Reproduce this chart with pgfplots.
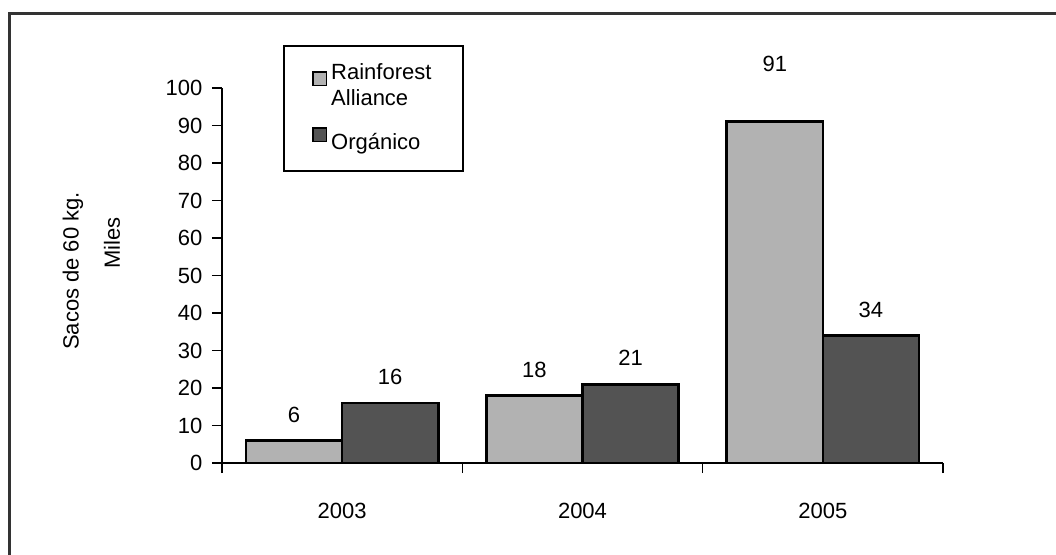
\documentclass[border=0pt]{standalone}
\usepackage{fontspec}
\setmainfont{Liberation Sans}
\usepackage{pgfplots}
\pgfplotsset{compat=1.18}
\definecolor{lightbar}{HTML}{B2B2B2}
\definecolor{darkbar}{HTML}{535353}

\begin{document}
\fontsize{11}{13}\selectfont
\begin{tikzpicture}
\useasboundingbox (-111pt,-45.5pt) rectangle (417pt,231.5pt);
% outer chart frame (cropped at right and bottom)
\draw[line width=1.5pt, black!80] (-106pt,-60pt) -- (-106pt,225pt) -- (430pt,225pt);
\begin{axis}[
  scale only axis,
  width=360.5pt, height=187.5pt,
  ybar, bar width=0.4,
  xmin=-0.5, xmax=2.5, ymin=0, ymax=100,
  axis x line*=bottom, axis y line*=left,
  axis line style={line width=1pt},
  tick align=outside,
  xtick={0,1,2}, xticklabels={2003,2004,2005},
  major x tick style={draw=none},
  minor xtick={-0.5,0.5,1.5,2.5},
  minor tick length=5pt,
  major tick length=5pt,
  every tick/.style={black, line width=0.6pt},
  xticklabel style={yshift=-11pt},
  ytick={0,10,...,100},
  yticklabel style={xshift=-1pt},
  /pgf/number format/assume math mode=true,
  nodes near coords,
  every node near coord/.append style={anchor=center, yshift=13pt, black},
  legend style={at={(rel axis cs:0.0846,1.1147)}, anchor=north west,
    draw=black, line width=1pt, fill=white,
    inner xsep=14pt, inner ysep=7pt, row sep=7pt,
    cells={anchor=west, align=left}},
  legend image code/.code={\draw[#1, draw=black, line width=0.8pt] (0pt,0.6pt) rectangle (6.8pt,7.4pt);},
]
\addplot[fill=lightbar, draw=black, line width=1.3pt, bar shift=-0.2,
  coordinate style/.condition={y>50}{yshift=16pt}]
  coordinates {(0,6) (1,18) (2,91)};
\addplot[fill=darkbar, draw=black, line width=1.3pt, bar shift=0.2]
  coordinates {(0,16) (1,21) (2,34)};
\legend{Rainforest\\Alliance, Orgánico}
\end{axis}
\node[rotate=90, anchor=center] at (-74.5pt,96pt) {Sacos de 60 kg.};
\node[rotate=90, anchor=center] at (-55pt,110pt) {Miles};
\end{tikzpicture}
\end{document}
